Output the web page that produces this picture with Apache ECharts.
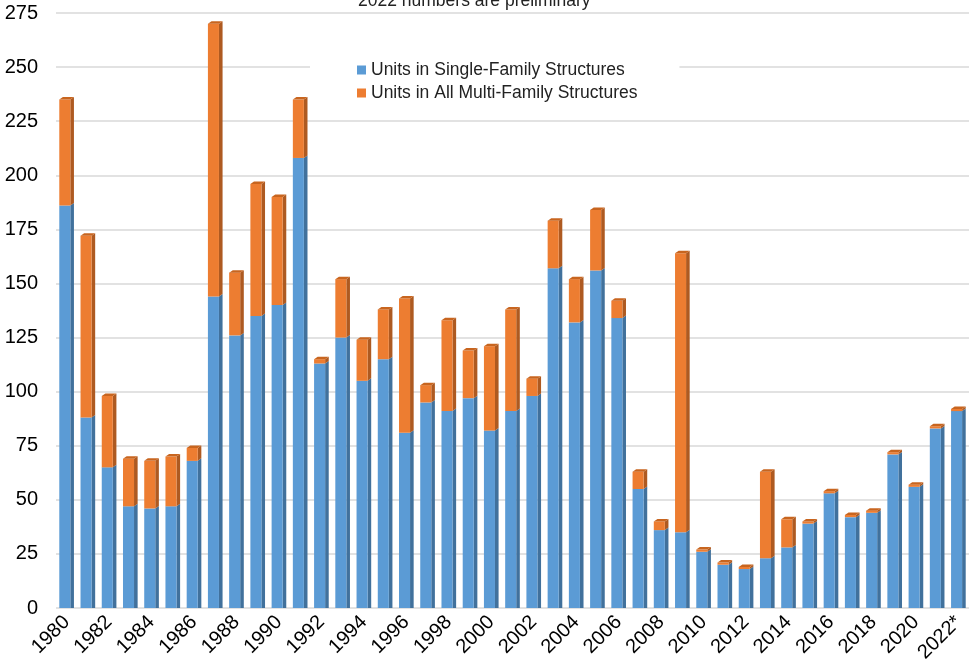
<!DOCTYPE html>
<html>
<head>
<meta charset="utf-8">
<script src="https://cdn.jsdelivr.net/npm/echarts@6/dist/echarts.min.js"></script>
<style>html,body{margin:0;padding:0;background:#fff;}#chart{width:969px;height:667px;}</style>
</head>
<body>
<div id="chart"></div>
<script>
const years = ['1980','1981','1982','1983','1984','1985','1986','1987','1988','1989','1990','1991','1992','1993','1994','1995','1996','1997','1998','1999','2000','2001','2002','2003','2004','2005','2006','2007','2008','2009','2010','2011','2012','2013','2014','2015','2016','2017','2018','2019','2020','2021','2022*'];
const singleFamily = [186,88,65,47,46,47,68,144,126,135,140,208,113,125,105,115,81,95,91,97,82,91,98,157,132,156,134,55,36,35,26,20,18,23,28,39,53,42,44,71,56,83,91];
const multiFamily = [49,84,33,22,22,23,6,126,29,61,50,27,2,27,19,23,62,8,42,22,39,47,8,22,20,28,8,8,4,129,1,1,1,40,13,1,1,1,1,1,1,1,1];
const yTicks = [0,25,50,75,100,125,150,175,200,225,250,275];

const BLUE = '#5b9bd5', BLUE_SIDE = '#41719c';
const ORANGE = '#ed7d31', ORANGE_SIDE = '#ae5a21', ORANGE_TOP = '#c8651f';
const FONT = 'Liberation Sans, Arial, sans-serif';

function makeRender(isTop) {
  return function (params, api) {
    const i = api.value(0);
    const lo = api.value(1), hi = api.value(2);
    const pLo = api.coord([i, lo]);
    const pHi = api.coord([i, hi]);
    const band = api.size([1, 0])[0];
    const w = band * 0.52, d = band * 0.17, dy = 2.5;
    const x = pLo[0] - (w + d) / 2;
    const y0 = pLo[1], y1 = pHi[1];
    const front = isTop ? ORANGE : BLUE;
    const side = isTop ? ORANGE_SIDE : BLUE_SIDE;
    const children = [
      { type: 'polygon', shape: { points: [[x + w, y1], [x + w + d, y1 - dy], [x + w + d, y0 - (isTop ? dy : 0)], [x + w, y0]] }, style: { fill: side } },
      { type: 'rect', shape: { x: x, y: y1, width: w, height: y0 - y1 }, style: { fill: front } }
    ];
    if (isTop) {
      children.push({ type: 'polygon', shape: { points: [[x, y1], [x + d, y1 - dy], [x + w + d, y1 - dy], [x + w, y1]] }, style: { fill: ORANGE_TOP } });
    }
    return { type: 'group', children: children };
  };
}

const blueData = years.map((y, i) => [i, 0, singleFamily[i]]);
const orangeData = years.map((y, i) => [i, singleFamily[i], singleFamily[i] + multiFamily[i]]);

const chart = echarts.init(document.getElementById('chart'), null, { renderer: 'canvas' });
chart.setOption({
  animation: false,
  backgroundColor: '#fff',
  textStyle: { fontFamily: FONT },
  title: {
    text: '2022 numbers are preliminary',
    left: 353, top: -13,
    textStyle: { fontSize: 17.5, fontWeight: 'normal', color: '#222', fontFamily: FONT }
  },
  legend: {
    orient: 'vertical',
    left: 310, top: 40,
    padding: [21, 42, 14, 47],
    backgroundColor: '#fff',
    itemWidth: 9, itemHeight: 9, itemGap: 5,
    icon: 'rect',
    textStyle: { fontSize: 17.5, color: '#222', fontFamily: FONT },
    data: ['Units in Single-Family Structures', 'Units in All Multi-Family Structures']
  },
  grid: { left: 56, right: 0, top: 13, bottom: 59, containLabel: false },
  xAxis: {
    type: 'category',
    data: years,
    axisLine: { show: false },
    axisTick: { show: false },
    axisLabel: { interval: 1, rotate: 45, fontSize: 20, color: '#000', margin: 11, fontFamily: FONT }
  },
  yAxis: {
    type: 'value',
    min: yTicks[0], max: yTicks[yTicks.length - 1], interval: 25,
    axisLine: { show: false },
    axisTick: { show: false },
    axisLabel: { fontSize: 20, color: '#000', margin: 18, fontFamily: FONT },
    splitLine: { lineStyle: { color: '#d9d9d9', width: 1.5 } }
  },
  series: [
    {
      name: 'Units in Single-Family Structures',
      type: 'custom',
      renderItem: makeRender(false),
      itemStyle: { color: BLUE },
      encode: { x: 0, y: [1, 2] },
      data: blueData,
      z: 2
    },
    {
      name: 'Units in All Multi-Family Structures',
      type: 'custom',
      renderItem: makeRender(true),
      itemStyle: { color: ORANGE },
      encode: { x: 0, y: [1, 2] },
      data: orangeData,
      z: 3
    }
  ]
});
</script>
</body>
</html>
